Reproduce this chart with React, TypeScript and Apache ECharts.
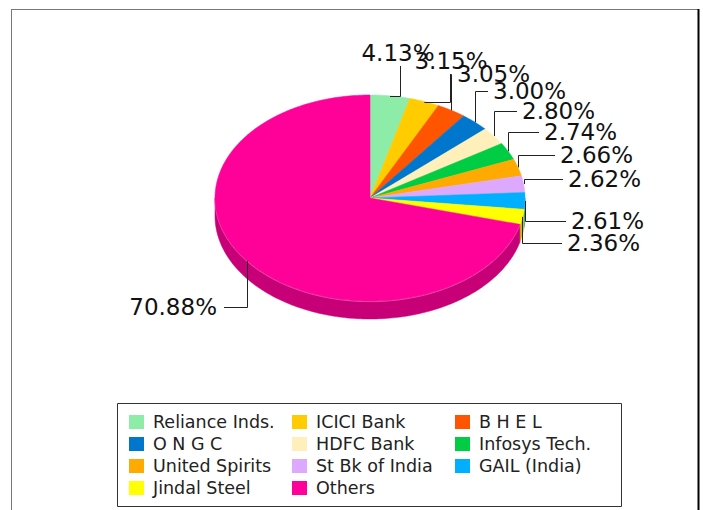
import React, { useEffect, useRef } from "react";
import * as echarts from "echarts";

// ---- data ----
const categories = [
  "Reliance Inds.",
  "ICICI Bank",
  "B H E L",
  "O N G C",
  "HDFC Bank",
  "Infosys Tech.",
  "United Spirits",
  "St Bk of India",
  "GAIL (India)",
  "Jindal Steel",
  "Others",
];
const shares = [4.13, 3.15, 3.05, 3.0, 2.8, 2.74, 2.66, 2.62, 2.61, 2.36, 70.88];
const colors = [
  "#8CECA8",
  "#FFCC00",
  "#FF5500",
  "#0077CC",
  "#FFF0BB",
  "#00CC44",
  "#FFAA00",
  "#DDA9FF",
  "#00B0FF",
  "#FFFF00",
  "#FF0099",
];

// ---- label placement (layout only) ----
const labelPlacement = [
  { mode: "up", x: 398, y: 53, lx: 400.5 },
  { mode: "up", x: 451, y: 61, lx: 450.5 },
  { mode: "right", x: 457, y: 74 },
  { mode: "right", x: 493, y: 91 },
  { mode: "right", x: 522, y: 111 },
  { mode: "right", x: 544, y: 132 },
  { mode: "right", x: 560, y: 155 },
  { mode: "right", x: 568, y: 179 },
  { mode: "right", x: 571, y: 221 },
  { mode: "right", x: 567, y: 243 },
  { mode: "left", x: 217, y: 307 },
];

// pie geometry
const CX = 370;
const CY = 198;
const RX = 155;
const RY = 103;
const DEPTH = 18;

function darken(hex: string, f: number) {
  const n = parseInt(hex.slice(1), 16);
  const r = Math.round(((n >> 16) & 255) * f);
  const g = Math.round(((n >> 8) & 255) * f);
  const b = Math.round((n & 255) * f);
  return `rgb(${r},${g},${b})`;
}

function pt(deg: number, dy = 0): number[] {
  const t = (deg * Math.PI) / 180;
  return [CX + RX * Math.sin(t), CY - RY * Math.cos(t) + dy];
}

function arc(a: number, b: number, dy = 0): number[][] {
  const pts: number[][] = [];
  const steps = Math.max(2, Math.ceil(Math.abs(b - a)));
  for (let i = 0; i <= steps; i++) pts.push(pt(a + ((b - a) * i) / steps, dy));
  return pts;
}

export default function App() {
  const ref = useRef<HTMLDivElement>(null);

  useEffect(() => {
    if (!ref.current) return;
    const chart = echarts.init(ref.current, null, { renderer: "svg" });
    const total = shares.reduce((s, v) => s + v, 0);
    const starts: number[] = [];
    let acc = 0;
    shares.forEach((v) => {
      starts.push((acc / total) * 360);
      acc += v;
    });

    const legendEls: any[] = [
      {
        type: "rect",
        shape: { x: 117.5, y: 403.5, width: 504, height: 103 },
        style: { fill: "#fff", stroke: "#333", lineWidth: 1 },
      },
    ];
    categories.forEach((name, i) => {
      const col = i % 3;
      const row = Math.floor(i / 3);
      legendEls.push({
        type: "rect",
        shape: { x: 129 + col * 163, y: 415 + row * 22, width: 15, height: 14 },
        style: { fill: colors[i] },
      });
      legendEls.push({
        type: "text",
        x: 153 + col * 163,
        y: 422 + row * 22,
        style: {
          text: name,
          font: '17.5px "DejaVu Sans"',
          fill: "#222",
          verticalAlign: "middle",
          align: "left",
        },
      });
    });

    chart.setOption({
      animation: false,
      backgroundColor: "#fff",
      graphic: [
        {
          type: "line",
          shape: { x1: 11, y1: 9.5, x2: 699, y2: 9.5 },
          style: { stroke: "#777", lineWidth: 1 },
        },
        {
          type: "line",
          shape: { x1: 11.5, y1: 9, x2: 11.5, y2: 510 },
          style: { stroke: "#777", lineWidth: 1 },
        },
        {
          type: "line",
          shape: { x1: 698.5, y1: 9, x2: 698.5, y2: 510 },
          style: { stroke: "#000", lineWidth: 2 },
        },
        ...legendEls,
      ],
      series: [
        {
          type: "custom",
          coordinateSystem: "none",
          data: shares.map((v, i) => ({ value: v, name: categories[i] })),
          renderItem: (params: any, api: any) => {
            const i = params.dataIndex;
            const v = api.value(0);
            const a1 = starts[i];
            const a2 = a1 + (v / total) * 360;
            const children: any[] = [];
            // side face
            const sa = Math.max(a1, 90);
            const sb = Math.min(a2, 270);
            if (sa < sb) {
              const pts = arc(sa, sb, 0).concat(arc(sb, sa, DEPTH));
              children.push({
                type: "polygon",
                z2: 1,
                shape: { points: pts },
                style: { fill: darken(colors[i], 0.78), stroke: darken(colors[i], 0.78), lineWidth: 0.5 },
              });
              children.push({
                type: "polyline",
                z2: 2,
                shape: { points: arc(sa, sb, 0.6) },
                style: { stroke: "rgba(255,255,255,0.45)", lineWidth: 0.8, fill: null },
              });
            }
            // top face
            children.push({
              type: "polygon",
              z2: 3,
              shape: { points: [[CX, CY]].concat(arc(a1, a2, 0)) },
              style: { fill: colors[i], stroke: colors[i], lineWidth: 0.5 },
            });
            // label + leader
            const mid = (a1 + a2) / 2;
            const anc = pt(mid);
            const ax = Math.round(anc[0]) + 0.5;
            const ay = Math.round(anc[1]) + 0.5;
            const lp = labelPlacement[i];
            let linePts: number[][];
            let align = "left";
            const tx = lp.x;
            if (lp.mode === "up") {
              const lx = (lp as any).lx;
              linePts = [
                [anc[0], ay],
                [lx, ay],
                [lx, lp.y + 13],
              ];
              align = "center";
            } else if (lp.mode === "right") {
              linePts = [
                [ax, anc[1]],
                [ax, lp.y + 0.5],
                [lp.x - 5, lp.y + 0.5],
              ];
            } else {
              linePts = [
                [ax, anc[1]],
                [ax, lp.y + 0.5],
                [lp.x + 7, lp.y + 0.5],
              ];
              align = "right";
            }
            children.push({
              type: "polyline",
              z2: 10,
              shape: { points: linePts },
              style: { stroke: "#222", lineWidth: 1, fill: null },
            });
            children.push({
              type: "text",
              z2: 11,
              x: tx,
              y: lp.y,
              style: {
                text: v.toFixed(2) + "%",
                font: '23px "DejaVu Sans"',
                fill: "#111",
                align,
                verticalAlign: "middle",
              },
            });
            return { type: "group", children };
          },
        },
      ],
    });
    return () => chart.dispose();
  }, []);

  return (
    <div
      ref={ref}
      style={{ position: "fixed", left: 0, top: 0, width: 703, height: 510 }}
    />
  );
}
